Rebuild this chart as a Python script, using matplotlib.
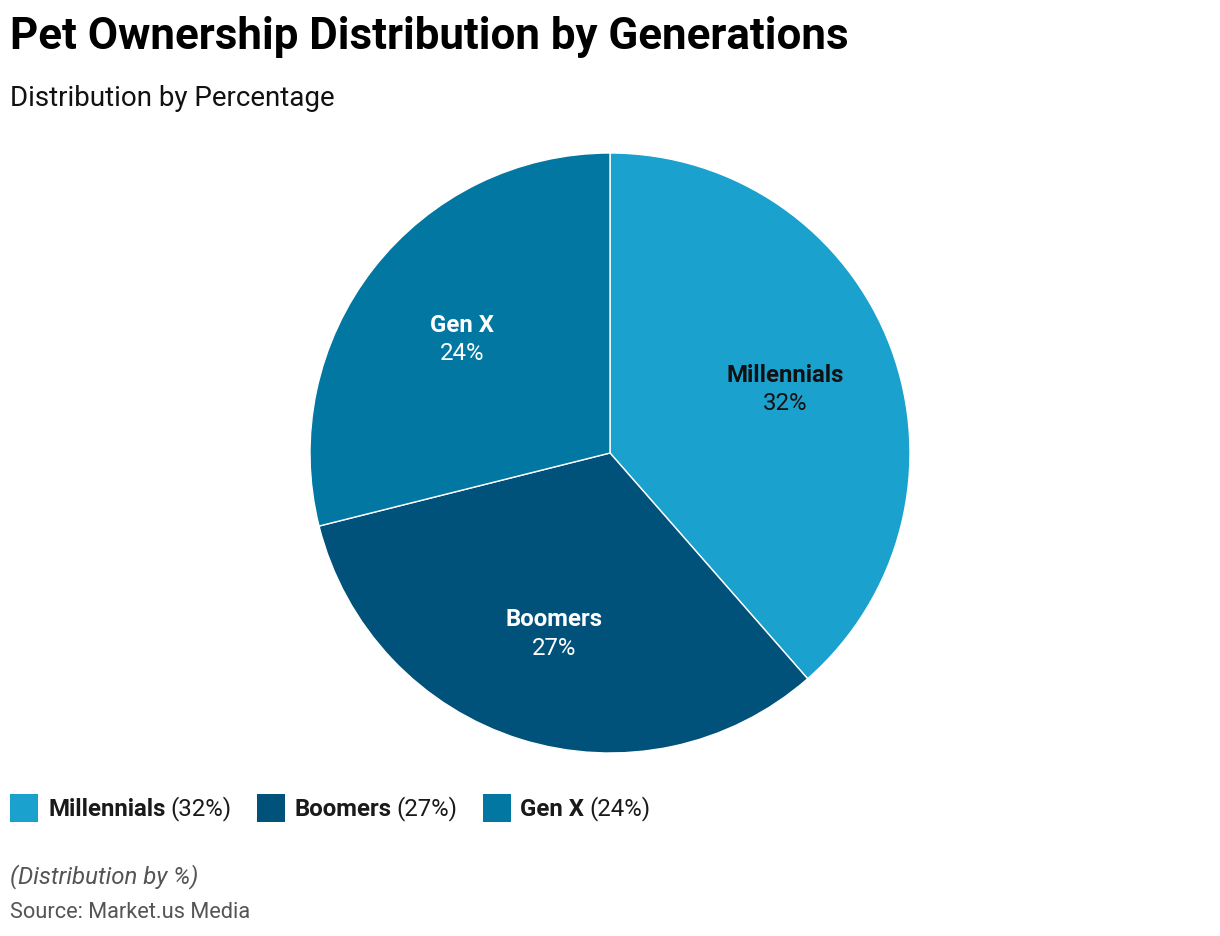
import matplotlib
matplotlib.use("Agg")
import matplotlib.pyplot as plt
import numpy as np
from matplotlib.patches import Rectangle

categories = ["Millennials", "Boomers", "Gen X"]
values = [32, 27, 24]
colors = ["#1aa1cd", "#01527a", "#0277a1"]
label_colors = ["#111111", "#ffffff", "#ffffff"]

plt.rcParams['font.family'] = ['Roboto', 'DejaVu Sans']

W, H = 1220, 936
fig = plt.figure(figsize=(W / 100, H / 100), dpi=100)
fig.patch.set_facecolor("white")

cx, cy, r = 610, 453, 300
ax = fig.add_axes([(cx - r) / W, (H - cy - r) / H, 2 * r / W, 2 * r / H])
wedges, _ = ax.pie(values, colors=colors, startangle=90, counterclock=False,
                   wedgeprops=dict(edgecolor="white", linewidth=1))
ax.set_aspect("equal")
ax.set_xlim(-1, 1)
ax.set_ylim(-1, 1)
ax.axis("off")

for w, cat, v, lc in zip(wedges, categories, values, label_colors):
    ang = np.deg2rad((w.theta1 + w.theta2) / 2)
    d = 0.625
    x, y = d * np.cos(ang), d * np.sin(ang) - 0.007
    ax.text(x, y + 0.047, cat, ha="center", va="center", fontsize=17.3,
            fontweight="bold", color=lc)
    ax.text(x, y - 0.047, f"{v}%", ha="center", va="center", fontsize=17.3,
            color=lc)

fig.text(10 / W, 1 - 37 / H, "Pet Ownership Distribution by Generations",
         fontsize=31.6, fontweight="bold", color="#000000", va="center", ha="left")
fig.text(10 / W, 1 - 99 / H, "Distribution by Percentage",
         fontsize=20, color="#111111", va="center", ha="left")

# legend
fig.canvas.draw()
renderer = fig.canvas.get_renderer()
x = 10
ly = 809
sq = 28
for cat, v, c in zip(categories, values, colors):
    fig.patches.append(Rectangle((x / W, (H - 808 - sq / 2) / H), sq / W, sq / H,
                                 transform=fig.transFigure, facecolor=c,
                                 edgecolor="none"))
    tx = x + sq + 10
    t1 = fig.text(tx / W, 1 - ly / H, cat, fontsize=17.3, fontweight="bold",
                  color="#1a1a1a", va="center", ha="left")
    bb = t1.get_window_extent(renderer)
    t2 = fig.text((tx + bb.width + 5) / W, 1 - ly / H, f"({v}%)", fontsize=17.3,
                  color="#1a1a1a", va="center", ha="left")
    bb2 = t2.get_window_extent(renderer)
    x = tx + bb.width + 5 + bb2.width + 25

fig.text(10 / W, 1 - 877 / H, "(Distribution by %)", fontsize=17.3,
         style="italic", color="#555555", va="center", ha="left")
fig.text(10 / W, 1 - 913 / H, "Source: Market.us Media", fontsize=15.7,
         color="#555555", va="center", ha="left")

fig.savefig("out.png", dpi=100, facecolor="white")
